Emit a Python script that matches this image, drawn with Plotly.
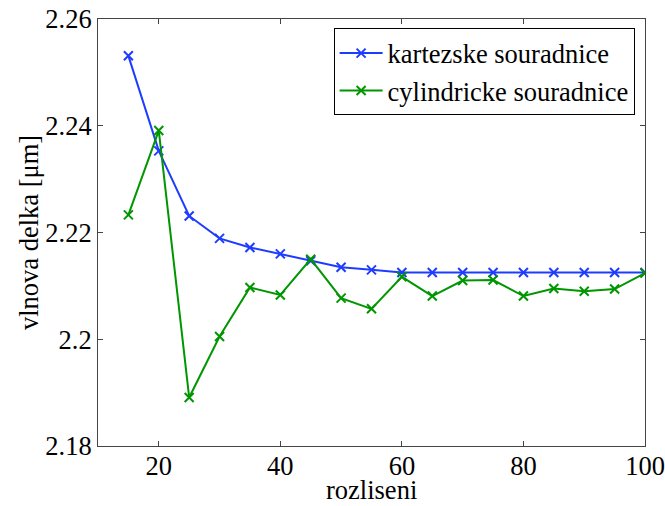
import plotly.graph_objects as go

rozliseni = [15, 20, 25, 30, 35, 40, 45, 50, 55, 60, 65, 70, 75, 80, 85, 90, 95, 100]
kartezske = [2.2531, 2.2353, 2.2231, 2.2189, 2.2172, 2.2160, 2.2147, 2.2135, 2.2130,
             2.2125, 2.2125, 2.2125, 2.2125, 2.2125, 2.2125, 2.2125, 2.2125, 2.2125]
cylindricke = [2.2233, 2.2391, 2.1891, 2.2005, 2.2097, 2.2083, 2.2150, 2.2077, 2.2057,
               2.2117, 2.2081, 2.2110, 2.2111, 2.2081, 2.2095, 2.2090, 2.2094, 2.2124]
x_ticks = [20, 40, 60, 80, 100]
y_ticks = [2.18, 2.2, 2.22, 2.24, 2.26]
y_ticklabels = ["2.18", "2.2", "2.22", "2.24", "2.26"]
x_title = "rozliseni"
y_title = "vlnova delka [μm]"

FONT = "Liberation Serif"
FS = 26.5
BLUE = "rgb(30,60,255)"
GREEN = "rgb(0,150,0)"

fig = go.Figure()
fig.add_trace(go.Scatter(
    x=rozliseni, y=kartezske, mode="lines+markers", name="kartezske souradnice",
    line=dict(color=BLUE, width=2),
    marker=dict(symbol="x-thin", size=9, color=BLUE, line=dict(width=2, color=BLUE)),
))
fig.add_trace(go.Scatter(
    x=rozliseni, y=cylindricke, mode="lines+markers", name="cylindricke souradnice",
    line=dict(color=GREEN, width=2),
    marker=dict(symbol="x-thin", size=9, color=GREEN, line=dict(width=2, color=GREEN)),
))

axis_common = dict(
    showline=True, linecolor="#444", linewidth=1, mirror="ticks",
    ticks="inside", ticklen=5, tickcolor="#444", showgrid=False, zeroline=False,
    automargin=False,
    tickfont=dict(family=FONT, size=FS, color="black"),
)

fig.update_layout(
    template="none",
    width=665, height=506,
    margin=dict(l=98, r=20, t=19, b=60),
    paper_bgcolor="white", plot_bgcolor="white",
    font=dict(family=FONT, size=FS, color="black"),
    xaxis=dict(range=[10, 100], tickvals=x_ticks, ticktext=[str(v) for v in x_ticks],
               ticklabelstandoff=-4, **axis_common),
    yaxis=dict(range=[2.18, 2.26], tickvals=y_ticks, ticktext=y_ticklabels,
               **axis_common),
    legend=dict(
        x=0.981, y=0.978, xanchor="right", yanchor="top",
        bgcolor="white", bordercolor="black", borderwidth=1,
        font=dict(family=FONT, size=FS, color="black"),
        tracegroupgap=0, itemwidth=43,
    ),
    showlegend=True,
    annotations=[
        dict(text=x_title, xref="paper", yref="paper", x=0.5, y=-0.102,
             xanchor="center", yanchor="middle", showarrow=False,
             font=dict(family=FONT, size=FS, color="black")),
        dict(text=y_title, xref="paper", yref="paper", x=-0.127, y=0.5,
             xanchor="center", yanchor="middle", showarrow=False, textangle=-90,
             font=dict(family=FONT, size=FS, color="black")),
    ],
)

fig.write_html("out.html")
